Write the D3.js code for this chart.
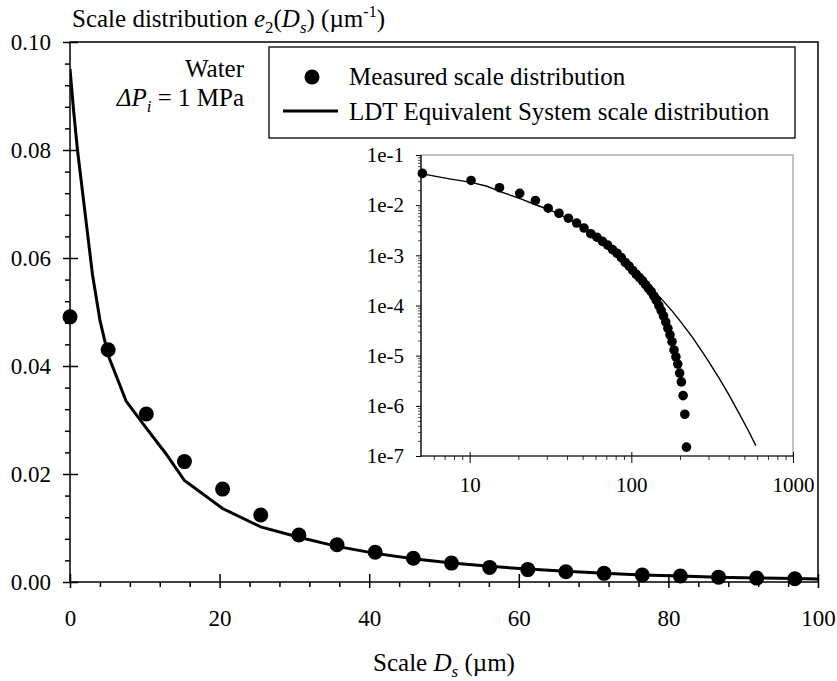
<!DOCTYPE html>
<html>
<head>
<meta charset="utf-8">
<script src="https://cdn.jsdelivr.net/npm/d3@7"></script>
<style>
  body { margin: 0; background: #fff; }
  text { font-family: "Liberation Serif", "Times New Roman", serif; fill: #000; }
</style>
</head>
<body>
<div id="chart"></div>
<script>
// measured scale distribution (um, 1/um)
const measX = [0, 5.1, 10.2, 15.3, 20.4, 25.5, 30.6, 35.7, 40.8, 45.9,
  51.0, 56.1, 61.2, 66.3, 71.4, 76.5, 81.6, 86.7, 91.8, 96.9,
  102.0, 107.1, 112.2, 117.3, 122.4, 127.5, 132.6, 137.7, 142.8, 147.9,
  153.0, 158.1, 163.2, 168.3, 173.4, 178.5, 183.6, 188.7, 193.8, 198.9,
  204.0, 209.1, 214.2, 219.3];
const measY = [0.0491, 0.0430, 0.0311, 0.0223, 0.0172, 0.0124, 0.0087, 0.0069, 0.0055, 0.0044,
  0.0035, 0.0027, 0.0023, 0.0019, 0.0016, 0.0013, 0.0011, 0.00090, 0.00072, 0.00061,
  5.0e-4, 4.2e-4, 3.6e-4, 3.1e-4, 2.6e-4, 2.2e-4, 1.9e-4, 1.55e-4, 1.26e-4, 1.0e-4,
  7.9e-5, 6.2e-5, 4.7e-5, 3.5e-5, 2.6e-5, 1.9e-5, 1.3e-5, 9.5e-6, 6.8e-6, 4.5e-6,
  3.0e-6, 1.6e-6, 6.8e-7, 1.5e-7];

// LDT equivalent system curve
const ldtX = [0, 0.5, 1, 2, 3, 4, 5.1, 7.5, 10.2, 12.8, 15.3, 20.4, 25.5, 30.6, 35.7, 40.8,
  45.9, 51.0, 56.1, 61.2, 66.3, 71.4, 76.5, 81.6, 86.7, 91.8, 96.9, 112, 139, 156, 180, 200,
  239, 289, 349, 400, 464, 530, 589];
const ldtY = [0.0950, 0.0870, 0.0800, 0.0685, 0.0570, 0.0485, 0.0420, 0.0335, 0.0285, 0.0238,
  0.0188, 0.0136, 0.0102, 0.0083, 0.0066, 0.0053, 0.0043, 0.0035, 0.0029, 0.0024, 0.0020,
  0.0016, 0.0013, 0.0011, 0.0009, 0.00075, 0.00063, 3.7e-4, 1.9e-4, 1.28e-4, 7.55e-5, 4.95e-5,
  2.31e-5, 9.4e-6, 3.56e-6, 1.69e-6, 7.1e-7, 3.18e-7, 1.61e-7];

const mainXTicks = [0, 20, 40, 60, 80, 100];
const mainYTicks = [0, 0.02, 0.04, 0.06, 0.08, 0.10];
const insetXTicks = [10, 100, 1000];
const insetYTicks = [1e-7, 1e-6, 1e-5, 1e-4, 1e-3, 1e-2, 1e-1];

const legendLabels = ["Measured scale distribution", "LDT Equivalent System scale distribution"];

const meas = measX.map((x, i) => ({ x, y: measY[i] }));
const ldt = ldtX.map((x, i) => ({ x, y: ldtY[i] }));

const width = 837, height = 681;
const svg = d3.select("#chart").append("svg")
  .attr("width", width).attr("height", height);

// ---- main plot ----
const x = d3.scaleLinear().domain([0, 100]).range([70, 818]);
const y = d3.scaleLinear().domain([0, 0.1]).range([582, 42]);

const minorX = d3.range(0, 101, 4).filter(d => d % 20 !== 0);
const minorY = d3.range(0, 0.1001, 0.004).map(d => +d.toFixed(3)).filter(d => Math.round(d * 1000) % 20 !== 0);

// frame
svg.append("rect")
  .attr("x", 70).attr("y", 42).attr("width", 748).attr("height", 540)
  .attr("fill", "none").attr("stroke", "#000").attr("stroke-width", 1.5);

function styleAxis(g, w) {
  g.select(".domain").remove();
  g.selectAll("line").attr("stroke", "#000").attr("stroke-width", w);
}

// x axis majors (down, labelled) + inward part + minors
svg.append("g").attr("transform", "translate(0,582)")
  .call(d3.axisBottom(x).tickValues(mainXTicks).tickSize(6).tickPadding(22).tickFormat(d3.format("d")))
  .call(g => styleAxis(g, 1.5))
  .call(g => g.selectAll("text").style("font-size", "23px"));
svg.append("g").attr("transform", "translate(0,582)")
  .call(d3.axisTop(x).tickValues(mainXTicks).tickSize(8).tickFormat(""))
  .call(g => styleAxis(g, 1.5));
svg.append("g").attr("transform", "translate(0,582)")
  .call(d3.axisBottom(x).tickValues(minorX).tickSize(5).tickFormat(""))
  .call(g => styleAxis(g, 1.5));

// y axis
svg.append("g").attr("transform", "translate(70,0)")
  .call(d3.axisLeft(y).tickValues(mainYTicks).tickSize(7).tickPadding(12).tickFormat(d3.format(".2f")))
  .call(g => styleAxis(g, 1.5))
  .call(g => g.selectAll("text").style("font-size", "23px"));
svg.append("g").attr("transform", "translate(70,0)")
  .call(d3.axisRight(y).tickValues(mainYTicks).tickSize(8).tickFormat(""))
  .call(g => styleAxis(g, 1.5));
svg.append("g").attr("transform", "translate(70,0)")
  .call(d3.axisLeft(y).tickValues(minorY).tickSize(5).tickFormat(""))
  .call(g => styleAxis(g, 1.5));

// clip
svg.append("clipPath").attr("id", "mainclip")
  .append("rect").attr("x", 70).attr("y", 42).attr("width", 748).attr("height", 540);

const mainLine = d3.line().x(d => x(d.x)).y(d => y(d.y));
svg.append("path")
  .datum(ldt.filter(d => d.x <= 120))
  .attr("clip-path", "url(#mainclip)")
  .attr("d", mainLine)
  .attr("fill", "none").attr("stroke", "#000").attr("stroke-width", 3);

svg.append("g").selectAll("circle")
  .data(meas.filter(d => d.x <= 100))
  .join("circle")
  .attr("cx", d => x(d.x)).attr("cy", d => y(d.y)).attr("r", 7.5)
  .attr("fill", "#000");

// titles
const title = svg.append("text").attr("x", 72).attr("y", 27).style("font-size", "25px");
title.append("tspan").text("Scale distribution ");
title.append("tspan").style("font-style", "italic").text("e");
title.append("tspan").attr("dy", 6).style("font-size", "17px").text("2");
title.append("tspan").attr("dy", -6).text("(");
title.append("tspan").style("font-style", "italic").text("D");
title.append("tspan").attr("dy", 6).style("font-size", "17px").style("font-style", "italic").text("s");
title.append("tspan").attr("dy", -6).text(") (\u00b5m");
title.append("tspan").attr("dy", -10).style("font-size", "16px").text("-1");
title.append("tspan").attr("dy", 10).text(")");

const xl = svg.append("text").attr("x", 444).attr("y", 671)
  .attr("text-anchor", "middle").style("font-size", "25px");
xl.append("tspan").text("Scale ");
xl.append("tspan").style("font-style", "italic").text("D");
xl.append("tspan").attr("dy", 6).style("font-size", "17px").style("font-style", "italic").text("s");
xl.append("tspan").attr("dy", -6).text(" (\u00b5m)");

// annotation
svg.append("text").attr("x", 244).attr("y", 77).attr("text-anchor", "end")
  .style("font-size", "25px").text("Water");
const dp = svg.append("text").attr("x", 244).attr("y", 106).attr("text-anchor", "end")
  .style("font-size", "25px");
dp.append("tspan").style("font-style", "italic").text("\u0394P");
dp.append("tspan").attr("dy", 6).style("font-size", "17px").style("font-style", "italic").text("i");
dp.append("tspan").attr("dy", -6).text(" = 1 MPa");

// legend
const lg = svg.append("g");
lg.append("rect").attr("x", 269).attr("y", 47).attr("width", 526).attr("height", 91)
  .attr("fill", "#fff").attr("stroke", "#000").attr("stroke-width", 1.3);
lg.append("circle").attr("cx", 312).attr("cy", 77).attr("r", 7.5).attr("fill", "#000");
lg.append("line").attr("x1", 283).attr("x2", 338).attr("y1", 111).attr("y2", 111)
  .attr("stroke", "#000").attr("stroke-width", 3);
lg.selectAll("text.lab").data(legendLabels).join("text")
  .attr("class", "lab")
  .attr("x", 349).attr("y", (d, i) => 85 + i * 35)
  .style("font-size", "25px").text(d => d);

// ---- inset ----
const xi = d3.scaleLog().domain([5, 1000]).range([421, 793]);
const yi = d3.scaleLog().domain([1e-7, 1e-1]).range([456, 155]);

svg.append("rect").attr("x", 421).attr("y", 155).attr("width", 372).attr("height", 301)
  .attr("fill", "#fff").attr("stroke", "#888").attr("stroke-width", 1);

const insetMinorX = [6, 7, 8, 9, 20, 30, 40, 50, 60, 70, 80, 90, 200, 300, 400, 500, 600, 700, 800, 900];
const insetMinorY = [];
insetYTicks.slice(0, -1).forEach(p => [2, 3, 4, 5, 6, 7, 8, 9].forEach(k => insetMinorY.push(p * k)));

const ix = svg.append("g").attr("transform", "translate(0,456)");
ix.append("line").attr("x1", 421).attr("x2", 793).attr("stroke", "#000").attr("stroke-width", 1.2);
ix.append("g")
  .call(d3.axisBottom(xi).tickValues(insetXTicks).tickSize(7).tickPadding(14).tickFormat(d3.format("d")))
  .call(g => styleAxis(g, 1))
  .call(g => g.selectAll("text").style("font-size", "21px"));
ix.append("g")
  .call(d3.axisTop(xi).tickValues(insetXTicks).tickSize(4).tickFormat(""))
  .call(g => styleAxis(g, 1));
ix.append("g")
  .call(d3.axisBottom(xi).tickValues(insetMinorX).tickSize(4).tickFormat(""))
  .call(g => styleAxis(g, 0.8));

const iy = svg.append("g").attr("transform", "translate(421,0)");
iy.append("line").attr("y1", 155).attr("y2", 456).attr("stroke", "#000").attr("stroke-width", 1.2);
iy.append("g")
  .call(d3.axisLeft(yi).tickValues(insetYTicks).tickSize(5).tickPadding(12)
    .tickFormat(d => "1e" + Math.round(Math.log10(d))))
  .call(g => styleAxis(g, 1))
  .call(g => g.selectAll("text").style("font-size", "21px"));
iy.append("g")
  .call(d3.axisLeft(yi).tickValues(insetMinorY).tickSize(3).tickFormat(""))
  .call(g => styleAxis(g, 0.7));

const insetLine = d3.line().x(d => xi(d.x)).y(d => yi(d.y));
svg.append("path")
  .datum(ldt.filter(d => d.x >= 5))
  .attr("d", insetLine)
  .attr("fill", "none").attr("stroke", "#000").attr("stroke-width", 1.4);

svg.append("g").selectAll("circle")
  .data(meas.filter(d => d.x >= 5))
  .join("circle")
  .attr("cx", d => xi(d.x)).attr("cy", d => yi(d.y)).attr("r", 4.8)
  .attr("fill", "#000");
</script>
</body>
</html>
